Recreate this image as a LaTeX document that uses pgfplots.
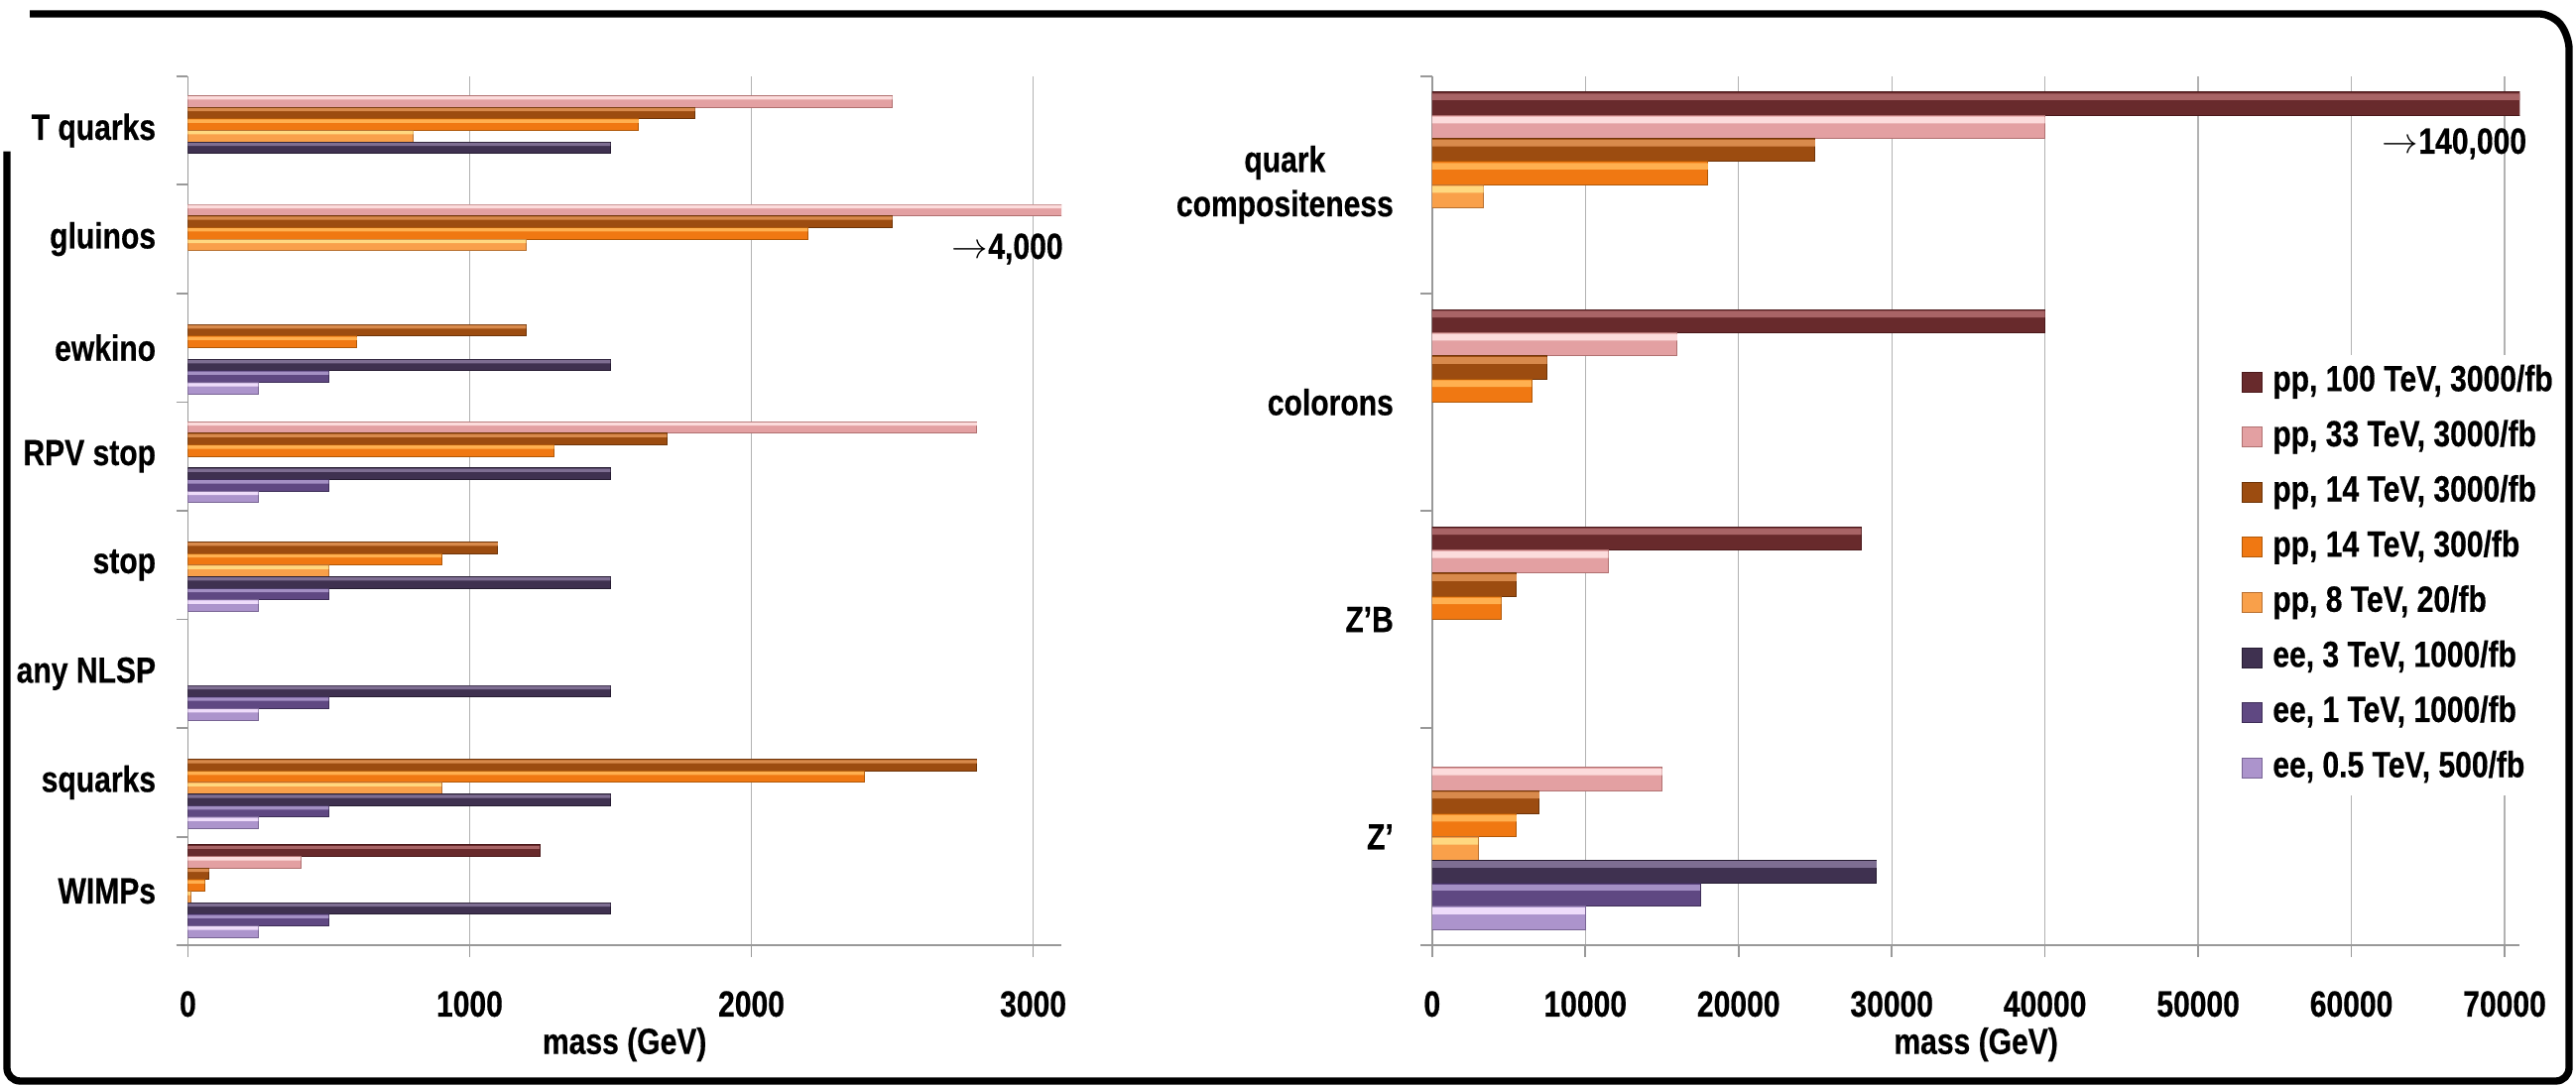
\documentclass[border=0pt]{standalone}
\usepackage{fontspec}
\setmainfont{Liberation Sans}[FakeStretch=0.82, BoldFeatures={FakeBold=0.5}]
\usepackage{pgfplots}
\usepackage{pgfplotstable}
\pgfplotsset{compat=1.18}
\definecolor{c0}{HTML}{682A2C}\definecolor{c0l}{HTML}{A86466}\definecolor{c0d}{HTML}{4A181A}
\definecolor{c1}{HTML}{E3A0A2}\definecolor{c1l}{HTML}{FCDCDC}\definecolor{c1d}{HTML}{B07070}
\definecolor{c2}{HTML}{9C4C10}\definecolor{c2l}{HTML}{D88A4C}\definecolor{c2d}{HTML}{6E3408}
\definecolor{c3}{HTML}{F07812}\definecolor{c3l}{HTML}{FFB050}\definecolor{c3d}{HTML}{B05808}
\definecolor{c4}{HTML}{F9A04A}\definecolor{c4l}{HTML}{FFD880}\definecolor{c4d}{HTML}{B87030}
\definecolor{c5}{HTML}{3F3150}\definecolor{c5l}{HTML}{7E6E92}\definecolor{c5d}{HTML}{261C32}
\definecolor{c6}{HTML}{5F4882}\definecolor{c6l}{HTML}{A490C4}\definecolor{c6d}{HTML}{3E2E58}
\definecolor{c7}{HTML}{AC94CC}\definecolor{c7l}{HTML}{EEDCFA}\definecolor{c7d}{HTML}{786494}
% left chart data (value, category: 0 WIMPs ... 7 T quarks)
\pgfplotstableread{
x y
1250 0
}\Lzero
\pgfplotstableread{
x y
400 0
2800 4
4000 6
2500 7
}\Lone
\pgfplotstableread{
x y
75 0
2800 1
1100 3
1700 4
1200 5
2500 6
1800 7
}\Ltwo
\pgfplotstableread{
x y
60 0
2400 1
900 3
1300 4
600 5
2200 6
1600 7
}\Lthree
\pgfplotstableread{
x y
10 0
900 1
500 3
1200 6
800 7
}\Lfour
\pgfplotstableread{
x y
1500 0
1500 1
1500 2
1500 3
1500 4
1500 5
1500 7
}\Lfive
\pgfplotstableread{
x y
500 0
500 1
500 2
500 3
500 4
500 5
}\Lsix
\pgfplotstableread{
x y
250 0
250 1
250 2
250 3
250 4
250 5
}\Lseven
% right chart data (0 Z', 1 Z'B, 2 colorons, 3 quark compositeness)
\pgfplotstableread{
x y
28000 1
40000 2
140000 3
}\Rzero
\pgfplotstableread{
x y
15000 0
11500 1
16000 2
40000 3
}\Rone
\pgfplotstableread{
x y
7000 0
5500 1
7500 2
25000 3
}\Rtwo
\pgfplotstableread{
x y
5500 0
4500 1
6500 2
18000 3
}\Rthree
\pgfplotstableread{
x y
3000 0
3350 3
}\Rfour
\pgfplotstableread{
x y
29000 0
}\Rfive
\pgfplotstableread{
x y
17500 0
}\Rsix
\pgfplotstableread{
x y
10000 0
}\Rseven
\pgfplotsset{
  b0/.style={draw=c0d, line width=0.3pt, fill=c0},
  b1/.style={draw=c1d, line width=0.3pt, fill=c1},
  b2/.style={draw=c2d, line width=0.3pt, fill=c2},
  b3/.style={draw=c3d, line width=0.3pt, fill=c3},
  b4/.style={draw=c4d, line width=0.3pt, fill=c4},
  b5/.style={draw=c5d, line width=0.3pt, fill=c5},
  b6/.style={draw=c6d, line width=0.3pt, fill=c6},
  b7/.style={draw=c7d, line width=0.3pt, fill=c7},
  myaxis/.style={
    scale only axis, xbar, clip mode=individual,
    axis x line=bottom, axis y line=left,
    axis line style={draw=gray!80, line width=0.5pt, -},
    xmajorgrids, major grid style={draw=gray!60, line width=0.4pt},
    tick align=outside, major tick length=3.5pt, minor tick length=3.5pt,
    tick style={draw=gray!80, line width=0.5pt},
    major y tick style={draw=none},
    scaled x ticks=false,
    /pgf/number format/assume math mode=true,
    /pgf/number format/1000 sep={},
    xticklabel style={anchor=base, yshift=-18pt, inner sep=0pt},
    yticklabel style={inner sep=0pt},
    xlabel style={at={(axis description cs:0.5,0)}, anchor=base, yshift=-32.8pt, inner sep=0pt},
  }
}
\begin{document}
\fontsize{11pt}{12.4pt}\selectfont\bfseries
\begin{tikzpicture}
\useasboundingbox (0,0) rectangle (779.1pt,328.8pt);
\draw[line width=2.2pt, rounded corners=4pt] (9pt,324.6pt) -- (772pt,324.6pt) -- (777pt,318pt) -- (777pt,1.8pt) -- (2.1pt,1.8pt) -- (2.1pt,283pt);
% left chart
\begin{axis}[myaxis, at={(56.82pt,42.81pt)}, anchor=south west,
  width=264.18pt, height=262.98pt,
  xmin=0, xmax=3100, ymin=-0.5, ymax=7.5, bar width=3.5pt,
  xtick={0,1000,2000,3000},
  ytick={0,...,7},
  yticklabels={WIMPs,squarks,any NLSP,stop,RPV stop,ewkino,gluinos,T quarks},
  minor ytick={-0.5,0.5,...,7.5},
  yticklabel style={xshift=-6pt},
  xlabel={mass (GeV)}]
\addplot[b0, bar shift=12.25pt] table {\Lzero};
\addplot[b1, bar shift=8.75pt] table {\Lone};
\addplot[b2, bar shift=5.25pt] table {\Ltwo};
\addplot[b3, bar shift=1.75pt] table {\Lthree};
\addplot[b4, bar shift=-1.75pt] table {\Lfour};
\addplot[b5, bar shift=-5.25pt] table {\Lfive};
\addplot[b6, bar shift=-8.75pt] table {\Lsix};
\addplot[b7, bar shift=-12.25pt] table {\Lseven};
% bevel highlights
\addplot[forget plot, draw=none, fill=c0l, bar width=1pt, bar shift=13.3pt] table {\Lzero};
\addplot[forget plot, draw=none, fill=c1l, bar width=1pt, bar shift=9.8pt] table {\Lone};
\addplot[forget plot, draw=none, fill=c2l, bar width=1pt, bar shift=6.3pt] table {\Ltwo};
\addplot[forget plot, draw=none, fill=c3l, bar width=1pt, bar shift=2.8pt] table {\Lthree};
\addplot[forget plot, draw=none, fill=c4l, bar width=1pt, bar shift=-0.7pt] table {\Lfour};
\addplot[forget plot, draw=none, fill=c5l, bar width=1pt, bar shift=-4.2pt] table {\Lfive};
\addplot[forget plot, draw=none, fill=c6l, bar width=1pt, bar shift=-7.7pt] table {\Lsix};
\addplot[forget plot, draw=none, fill=c7l, bar width=1pt, bar shift=-11.2pt] table {\Lseven};
\draw[gray!80, line width=0.5pt] ([xshift=-3.5pt]rel axis cs:0,0) -- (rel axis cs:0,0);
\node[anchor=base east, inner sep=0pt] at (axis cs:3108,5.818) {$\rightarrow$4,000};
\end{axis}
% right chart
\begin{axis}[myaxis, at={(433.14pt,42.81pt)}, anchor=south west,
  width=329.0pt, height=262.98pt,
  xmin=0, xmax=71000, ymin=-0.5, ymax=3.5, bar width=7pt,
  xtick={0,10000,...,70000},
  ytick={0,...,3},
  yticklabels={Z',Z'B,colorons,{quark\\[1pt]compositeness}},
  minor ytick={-0.5,0.5,...,3.5},
  yticklabel style={xshift=-8pt, align=center},
  xlabel={mass (GeV)},
  legend style={at={(0.7348,0.6802)}, anchor=north west, draw=none, fill=white,
    inner sep=3pt, row sep=6.18pt, column sep=3pt,
    nodes={inner sep=0pt, text height=8pt, text depth=2.5pt}},
  legend cell align=left,
  legend image code/.code={\draw[#1, line width=0.3pt] (0pt,-3pt) rectangle (6pt,3pt);}]
\addplot[b0, bar shift=24.5pt] table {\Rzero};
\addplot[b1, bar shift=17.5pt] table {\Rone};
\addplot[b2, bar shift=10.5pt] table {\Rtwo};
\addplot[b3, bar shift=3.5pt] table {\Rthree};
\addplot[b4, bar shift=-3.5pt] table {\Rfour};
\addplot[b5, bar shift=-10.5pt] table {\Rfive};
\addplot[b6, bar shift=-17.5pt] table {\Rsix};
\addplot[b7, bar shift=-24.5pt] table {\Rseven};
\legend{pp{,} 100 TeV{,} 3000/fb, pp{,} 33 TeV{,} 3000/fb, pp{,} 14 TeV{,} 3000/fb, pp{,} 14 TeV{,} 300/fb, pp{,} 8 TeV{,} 20/fb, ee{,} 3 TeV{,} 1000/fb, ee{,} 1 TeV{,} 1000/fb, ee{,} 0.5 TeV{,} 500/fb}
% bevel highlights
\addplot[forget plot, draw=none, fill=c0l, bar width=2pt, bar shift=26.6pt] table {\Rzero};
\addplot[forget plot, draw=none, fill=c1l, bar width=2pt, bar shift=19.6pt] table {\Rone};
\addplot[forget plot, draw=none, fill=c2l, bar width=2pt, bar shift=12.6pt] table {\Rtwo};
\addplot[forget plot, draw=none, fill=c3l, bar width=2pt, bar shift=5.6pt] table {\Rthree};
\addplot[forget plot, draw=none, fill=c4l, bar width=2pt, bar shift=-1.4pt] table {\Rfour};
\addplot[forget plot, draw=none, fill=c5l, bar width=2pt, bar shift=-8.4pt] table {\Rfive};
\addplot[forget plot, draw=none, fill=c6l, bar width=2pt, bar shift=-15.4pt] table {\Rsix};
\addplot[forget plot, draw=none, fill=c7l, bar width=2pt, bar shift=-22.4pt] table {\Rseven};
\draw[gray!80, line width=0.5pt] ([xshift=-3.5pt]rel axis cs:0,0) -- (rel axis cs:0,0);
\node[anchor=base east, inner sep=0pt] at (axis cs:71470,3.143) {$\rightarrow$140,000};
\end{axis}
\end{tikzpicture}
\end{document}
